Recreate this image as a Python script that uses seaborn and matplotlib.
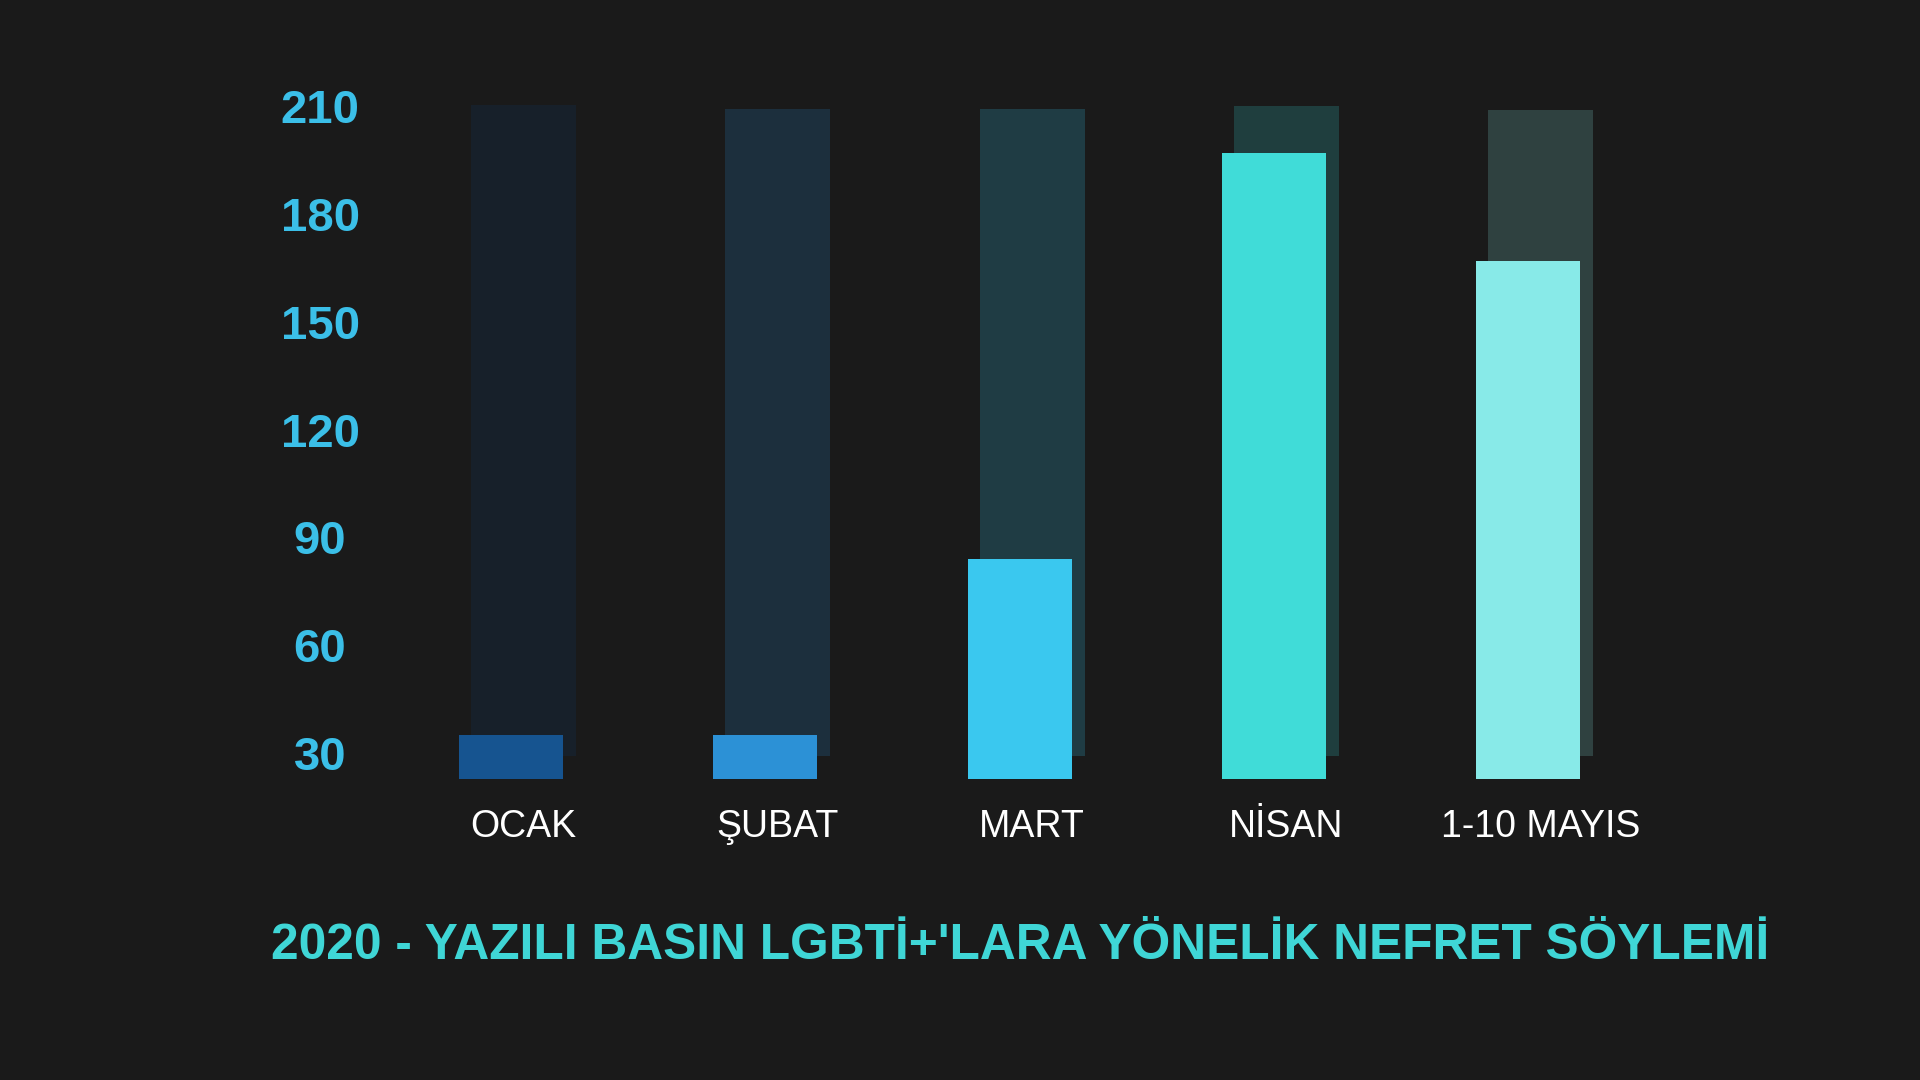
import numpy as np
import pandas as pd
import matplotlib
matplotlib.use("Agg")
import matplotlib.pyplot as plt
import seaborn as sns

# data
months = ["OCAK", "ŞUBAT", "MART", "NİSAN", "1-10 MAYIS"]
counts = [35, 35, 84, 197, 167]
track_top = [210.4, 209.2, 209.2, 210.1, 209.0]
track_bottom = 29.2
yticks = [30, 60, 90, 120, 150, 180, 210]
title = "2020 - YAZILI BASIN LGBTİ+'LARA YÖNELİK NEFRET SÖYLEMİ"

bar_colors = ["#165490", "#2c91d6", "#3ac8ef", "#40dcd8", "#88eae8"]
track_colors = ["#17202a", "#1c2f3d", "#1f3c44", "#1f3e3e", "#2f4140"]
bg = "#1a1a1a"

sns.set_theme(style="dark")
plt.rcParams["font.family"] = ["Liberation Sans", "DejaVu Sans"]

fig = plt.figure(figsize=(19.2, 10.8), dpi=100, facecolor=bg)
ax = fig.add_axes([0.2, 0.2787, 0.6621, 0.6394])
ax.set_facecolor(bg)

df = pd.DataFrame({"month": months, "count": counts})
sns.barplot(data=df, x="month", y="count", hue="month", palette=bar_colors,
            legend=False, width=0.409, saturation=1, linewidth=0,
            edgecolor="none", ax=ax)

# lighter "track" bars behind, shifted a bit to the right
offset = 0.049
pos = np.arange(len(months)) + offset
ax.bar(pos, np.array(track_top) - track_bottom, bottom=track_bottom,
       width=0.413, color=track_colors, linewidth=0, zorder=0.5)

ax.set_xlim(-0.5, len(months) - 0.5)
ax.set_ylim(22.76, 215)

ax.set_xticks(pos, months, va="baseline", color="white", fontsize=27)
ax.set_yticks(yticks, [str(t) for t in yticks], ha="center",
              color="#3bbfe8", fontsize=34, fontweight="bold")
ax.tick_params(axis="x", length=0, pad=41.8)
ax.tick_params(axis="y", length=0, pad=46)
ax.set_xlabel("")
ax.set_ylabel("")
ax.grid(False)
for s in ax.spines.values():
    s.set_visible(False)

fig.text(1020 / 1920, 121 / 1080, title, ha="center", va="baseline",
         color="#3fd6d6", fontsize=35.7, fontweight="bold")

fig.savefig("out.png", dpi=100, facecolor=bg)
